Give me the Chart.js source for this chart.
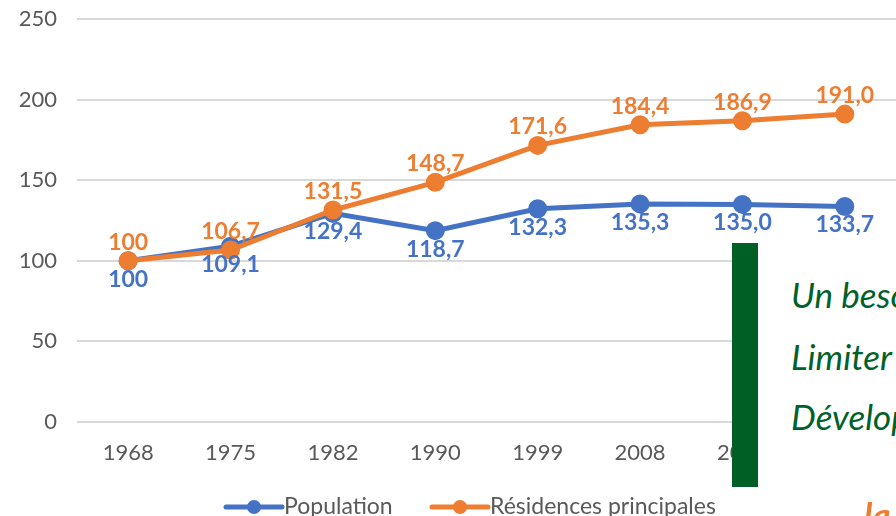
<!DOCTYPE html>
<html>
<head>
<meta charset="utf-8">
<script src="https://cdn.jsdelivr.net/npm/chart.js@4.4.0/dist/chart.umd.min.js"></script>
<style>
  html, body { margin: 0; padding: 0; background: #fff; }
  #wrap { position: relative; width: 896px; height: 516px; overflow: hidden; }
  #wrap canvas { position: absolute; left: 0; top: 0; }
  .bar { position: absolute; left: 732px; top: 243px; width: 26px; height: 244px; background: #005f25; }
  .box { position: absolute; left: 758px; top: 243px; width: 160px; height: 280px; background: #fff; }
  .msg { position: absolute; left: 791px; font-family: Lato, "Open Sans", sans-serif; font-style: italic;
         font-size: 35px; line-height: 44px; color: #00612a; white-space: nowrap; }
  .msg.o { color: #ed7d31; font-weight: bold; }
</style>
</head>
<body>
<div id="wrap">
  <canvas id="chart" width="896" height="516"></canvas>
  <div class="box"></div>
  <div class="bar"></div>
  <div class="msg" style="top:272px">Un besoin</div>
  <div class="msg" style="top:334px">Limiter</div>
  <div class="msg" style="top:394px">Développer</div>
  <div class="msg o" style="top:492px; left:864px">la</div>
</div>
<script>
// categories and series (index base 100 in 1968)
const years = ['1968', '1975', '1982', '1990', '1999', '2008', '2013', '2018'];
const population = [100, 109.1, 129.4, 118.7, 132.3, 135.3, 135.0, 133.7];
const residences = [100, 106.7, 131.5, 148.7, 171.6, 184.4, 186.9, 191.0];
const yTicks = [0, 50, 100, 150, 200, 250];

const BLUE = '#4472c4';
const ORANGE = '#ed7d31';
const FONT = 'Lato, "Open Sans", sans-serif';

function fmt(v, i) {
    if (i === 0) return '100';
    return v.toFixed(1).replace('.', ',');
}

// value labels above (orange) / below (blue) each point
const valueLabels = {
    id: 'valueLabels',
    afterDatasetsDraw(chart) {
        const ctx = chart.ctx;
        ctx.save();
        ctx.font = 'bold 23px ' + FONT;
        ctx.textAlign = 'center';
        chart.data.datasets.forEach((ds, di) => {
            const meta = chart.getDatasetMeta(di);
            const above = ds.labelPos === 'above';
            ctx.fillStyle = ds.borderColor;
            ctx.textBaseline = above ? 'bottom' : 'top';
            meta.data.forEach((pt, i) => {
                const y = above ? pt.y - 7 : pt.y + 7;
                ctx.fillText(fmt(ds.data[i], i), pt.x, y);
            });
        });
        ctx.restore();
    }
};

// Excel-like legend: line with dot marker
const lineLegend = {
    id: 'lineLegend',
    afterDraw(chart) {
        const ctx = chart.ctx;
        const items = [
            { text: 'Population', color: BLUE, x: 226 },
            { text: 'Résidences principales', color: ORANGE, x: 432 }
        ];
        const y = 507;
        ctx.save();
        ctx.font = '23px ' + FONT;
        ctx.textBaseline = 'middle';
        items.forEach(it => {
            ctx.strokeStyle = it.color;
            ctx.lineWidth = 5;
            ctx.lineCap = 'round';
            ctx.beginPath();
            ctx.moveTo(it.x, y);
            ctx.lineTo(it.x + 56, y);
            ctx.stroke();
            ctx.fillStyle = it.color;
            ctx.beginPath();
            ctx.arc(it.x + 28, y, 7, 0, Math.PI * 2);
            ctx.fill();
            ctx.fillStyle = '#595959';
            ctx.fillText(it.text, it.x + 58, y);
        });
        ctx.restore();
    }
};

new Chart(document.getElementById('chart'), {
    type: 'line',
    data: {
        labels: years,
        datasets: [
            {
                label: 'Population',
                data: population,
                borderColor: BLUE,
                backgroundColor: BLUE,
                borderWidth: 5,
                pointRadius: 7,
                pointHoverRadius: 7,
                tension: 0,
                order: 1,
                labelPos: 'below'
            },
            {
                label: 'Résidences principales',
                data: residences,
                borderColor: ORANGE,
                backgroundColor: ORANGE,
                borderWidth: 5,
                pointRadius: 7,
                pointHoverRadius: 7,
                tension: 0,
                order: 0,
                labelPos: 'above'
            }
        ]
    },
    options: {
        responsive: false,
        animation: false,
        layout: { autoPadding: false, padding: { top: 19, left: 0, right: 0, bottom: 0 } },
        plugins: {
            legend: { display: false },
            tooltip: { enabled: false }
        },
        scales: {
            x: {
                offset: true,
                grid: { display: false, drawTicks: false },
                border: { display: false },
                ticks: { color: '#595959', font: { family: FONT, size: 22 }, padding: 18 },
                afterFit(scale) {
                    scale.height = 94;
                    scale.paddingLeft = 0;
                    scale.paddingRight = 0;
                }
            },
            y: {
                min: 0,
                max: 250,
                afterBuildTicks(scale) { scale.ticks = yTicks.map(v => ({ value: v })); },
                grid: { color: '#d9d9d9', lineWidth: 2, drawTicks: false },
                border: { display: false },
                ticks: { color: '#595959', font: { family: FONT, size: 22 }, padding: 20 },
                afterFit(scale) {
                    scale.width = 77;
                    scale.paddingTop = 0;
                    scale.paddingBottom = 0;
                }
            }
        }
    },
    plugins: [valueLabels, lineLegend]
});
</script>
</body>
</html>
